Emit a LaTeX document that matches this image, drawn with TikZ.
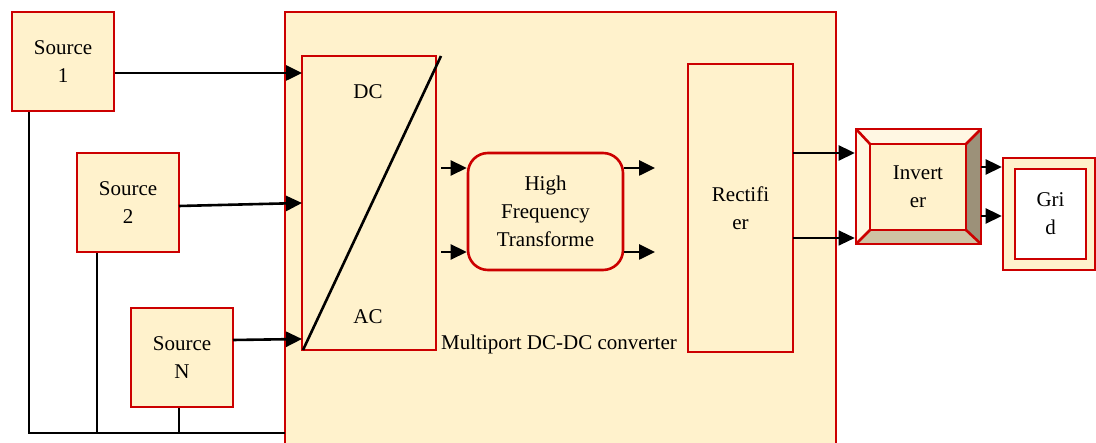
\documentclass[tikz,border=0pt]{standalone}
\usepackage{fontspec}
\setmainfont{Liberation Serif}
\usetikzlibrary{arrows.meta}
\definecolor{cream}{HTML}{FFF2CC}
\definecolor{dred}{HTML}{CC0000}
\definecolor{bevlight}{HTML}{FFF7E3}
\definecolor{bevdark}{HTML}{9C9179}
\definecolor{bevmid}{HTML}{CEC3A4}
\begin{document}
\begin{tikzpicture}[x=1pt,y=-1pt,
  box/.style={draw=dred,fill=cream,line width=2.6pt,inner sep=0pt,align=center,font=\fontsize{21}{28}\selectfont},
  lbl/.style={inner sep=0pt,align=center,font=\fontsize{21}{28}\selectfont},
  arr/.style={line width=2.6pt,-{Triangle[length=16pt,width=15pt]}},
  thinarr/.style={line width=1.2pt,-{Triangle[length=16pt,width=15pt]}},
  wire/.style={line width=2.6pt}]
\useasboundingbox (0,0) rectangle (1096,443);
\clip (0,0) rectangle (1096,443);
% container
\node[box,minimum width=551pt,minimum height=470pt] (cont) at (560.5,247) {};
% sources
\node[box,minimum width=102pt,minimum height=99pt] (s1) at (63,61.5) {Source\\1};
\node[box,minimum width=102pt,minimum height=99pt] (s2) at (128,202.5) {Source\\2};
\node[box,minimum width=102pt,minimum height=99pt] (sN) at (182,357.5) {Source\\N};
% DC/AC
\node[box,minimum width=134pt,minimum height=294pt] (dcac) at (369,203) {};
\coordinate (dtop) at (441,56);
\coordinate (dbot) at (303,350);
\draw[wire] (dbot) -- (dtop);
\node[lbl] (dc) at (368,92) {DC};
\node[lbl] (ac) at (368,317) {AC};
% HF transformer
\node[box,rounded corners=20pt,minimum width=155pt,minimum height=117pt] (hf) at (545.5,211.5) {High\\Frequency\\Transforme};
% Rectifier
\node[box,minimum width=105pt,minimum height=288pt] (rect) at (740.5,208) {Rectifi\\er};
\node[lbl,anchor=west] (mp) at (441,344) {Multiport DC-DC converter};
% Inverter (bevel)
\node[box,minimum width=125pt,minimum height=115pt] (invo) at (918.5,186.5) {};
\fill[bevlight] (856,129) -- (981,129) -- (966,144) -- (870,144) -- cycle;
\fill[bevlight] (856,129) -- (870,144) -- (870,230) -- (856,244) -- cycle;
\fill[bevdark] (981,129) -- (981,244) -- (966,230) -- (966,144) -- cycle;
\fill[bevmid] (856,244) -- (870,230) -- (966,230) -- (981,244) -- cycle;
\draw[dred,line width=2.6pt] (856,129) -- (870,144) (981,129) -- (966,144) (856,244) -- (870,230) (981,244) -- (966,230);
\draw[dred,line width=2.6pt] (856,129) rectangle (981,244);
\node[box,minimum width=96pt,minimum height=86pt] (inv) at (918,187) {Invert\\er};
% Grid
\node[box,minimum width=92pt,minimum height=112pt] (grido) at (1049,214) {};
\node[box,fill=white,minimum width=71pt,minimum height=90pt] (grid) at (1050.5,214) {Gri\\d};
% source connectors
\coordinate (i1) at (302,73);
\coordinate (o2) at (179,206);
\coordinate (i2) at (302,203);
\coordinate (oN) at (233,340);
\coordinate (iN) at (302,339);
\draw[arr] (s1.east |- i1) -- (i1);
\draw[arr] (o2) -- (i2);
\draw[arr] (oN) -- (iN);
% bus
\coordinate (b1) at (29,433);
\coordinate (b2) at (97,433);
\coordinate (b3) at (179,433);
\coordinate (b4) at (285,433);
\draw[wire] (s1.south -| b1) -- (b1) -- (b4);
\draw[wire] (s2.south -| b2) -- (b2);
\draw[wire] (sN.south -| b3) -- (b3);
% HF connectors
\coordinate (h1) at (441,168);
\coordinate (h2) at (441,252);
\coordinate (h3) at (655,168);
\coordinate (h4) at (655,252);
\draw[arr] (h1) -- (hf.west |- h1);
\draw[arr] (h2) -- (hf.west |- h2);
\draw[arr] (hf.east |- h3) -- (h3);
\draw[arr] (hf.east |- h4) -- (h4);
% rectifier -> inverter
\coordinate (r1) at (793,153);
\coordinate (r2) at (793,238);
\draw[arr] (r1) -- (invo.west |- r1);
\draw[thinarr] (r2) -- (invo.west |- r2);
% inverter -> grid
\coordinate (g1) at (981,167);
\coordinate (g2) at (981,216);
\draw[arr] (g1) -- (grido.west |- g1);
\draw[arr] (g2) -- (grido.west |- g2);
\end{tikzpicture}
\end{document}
